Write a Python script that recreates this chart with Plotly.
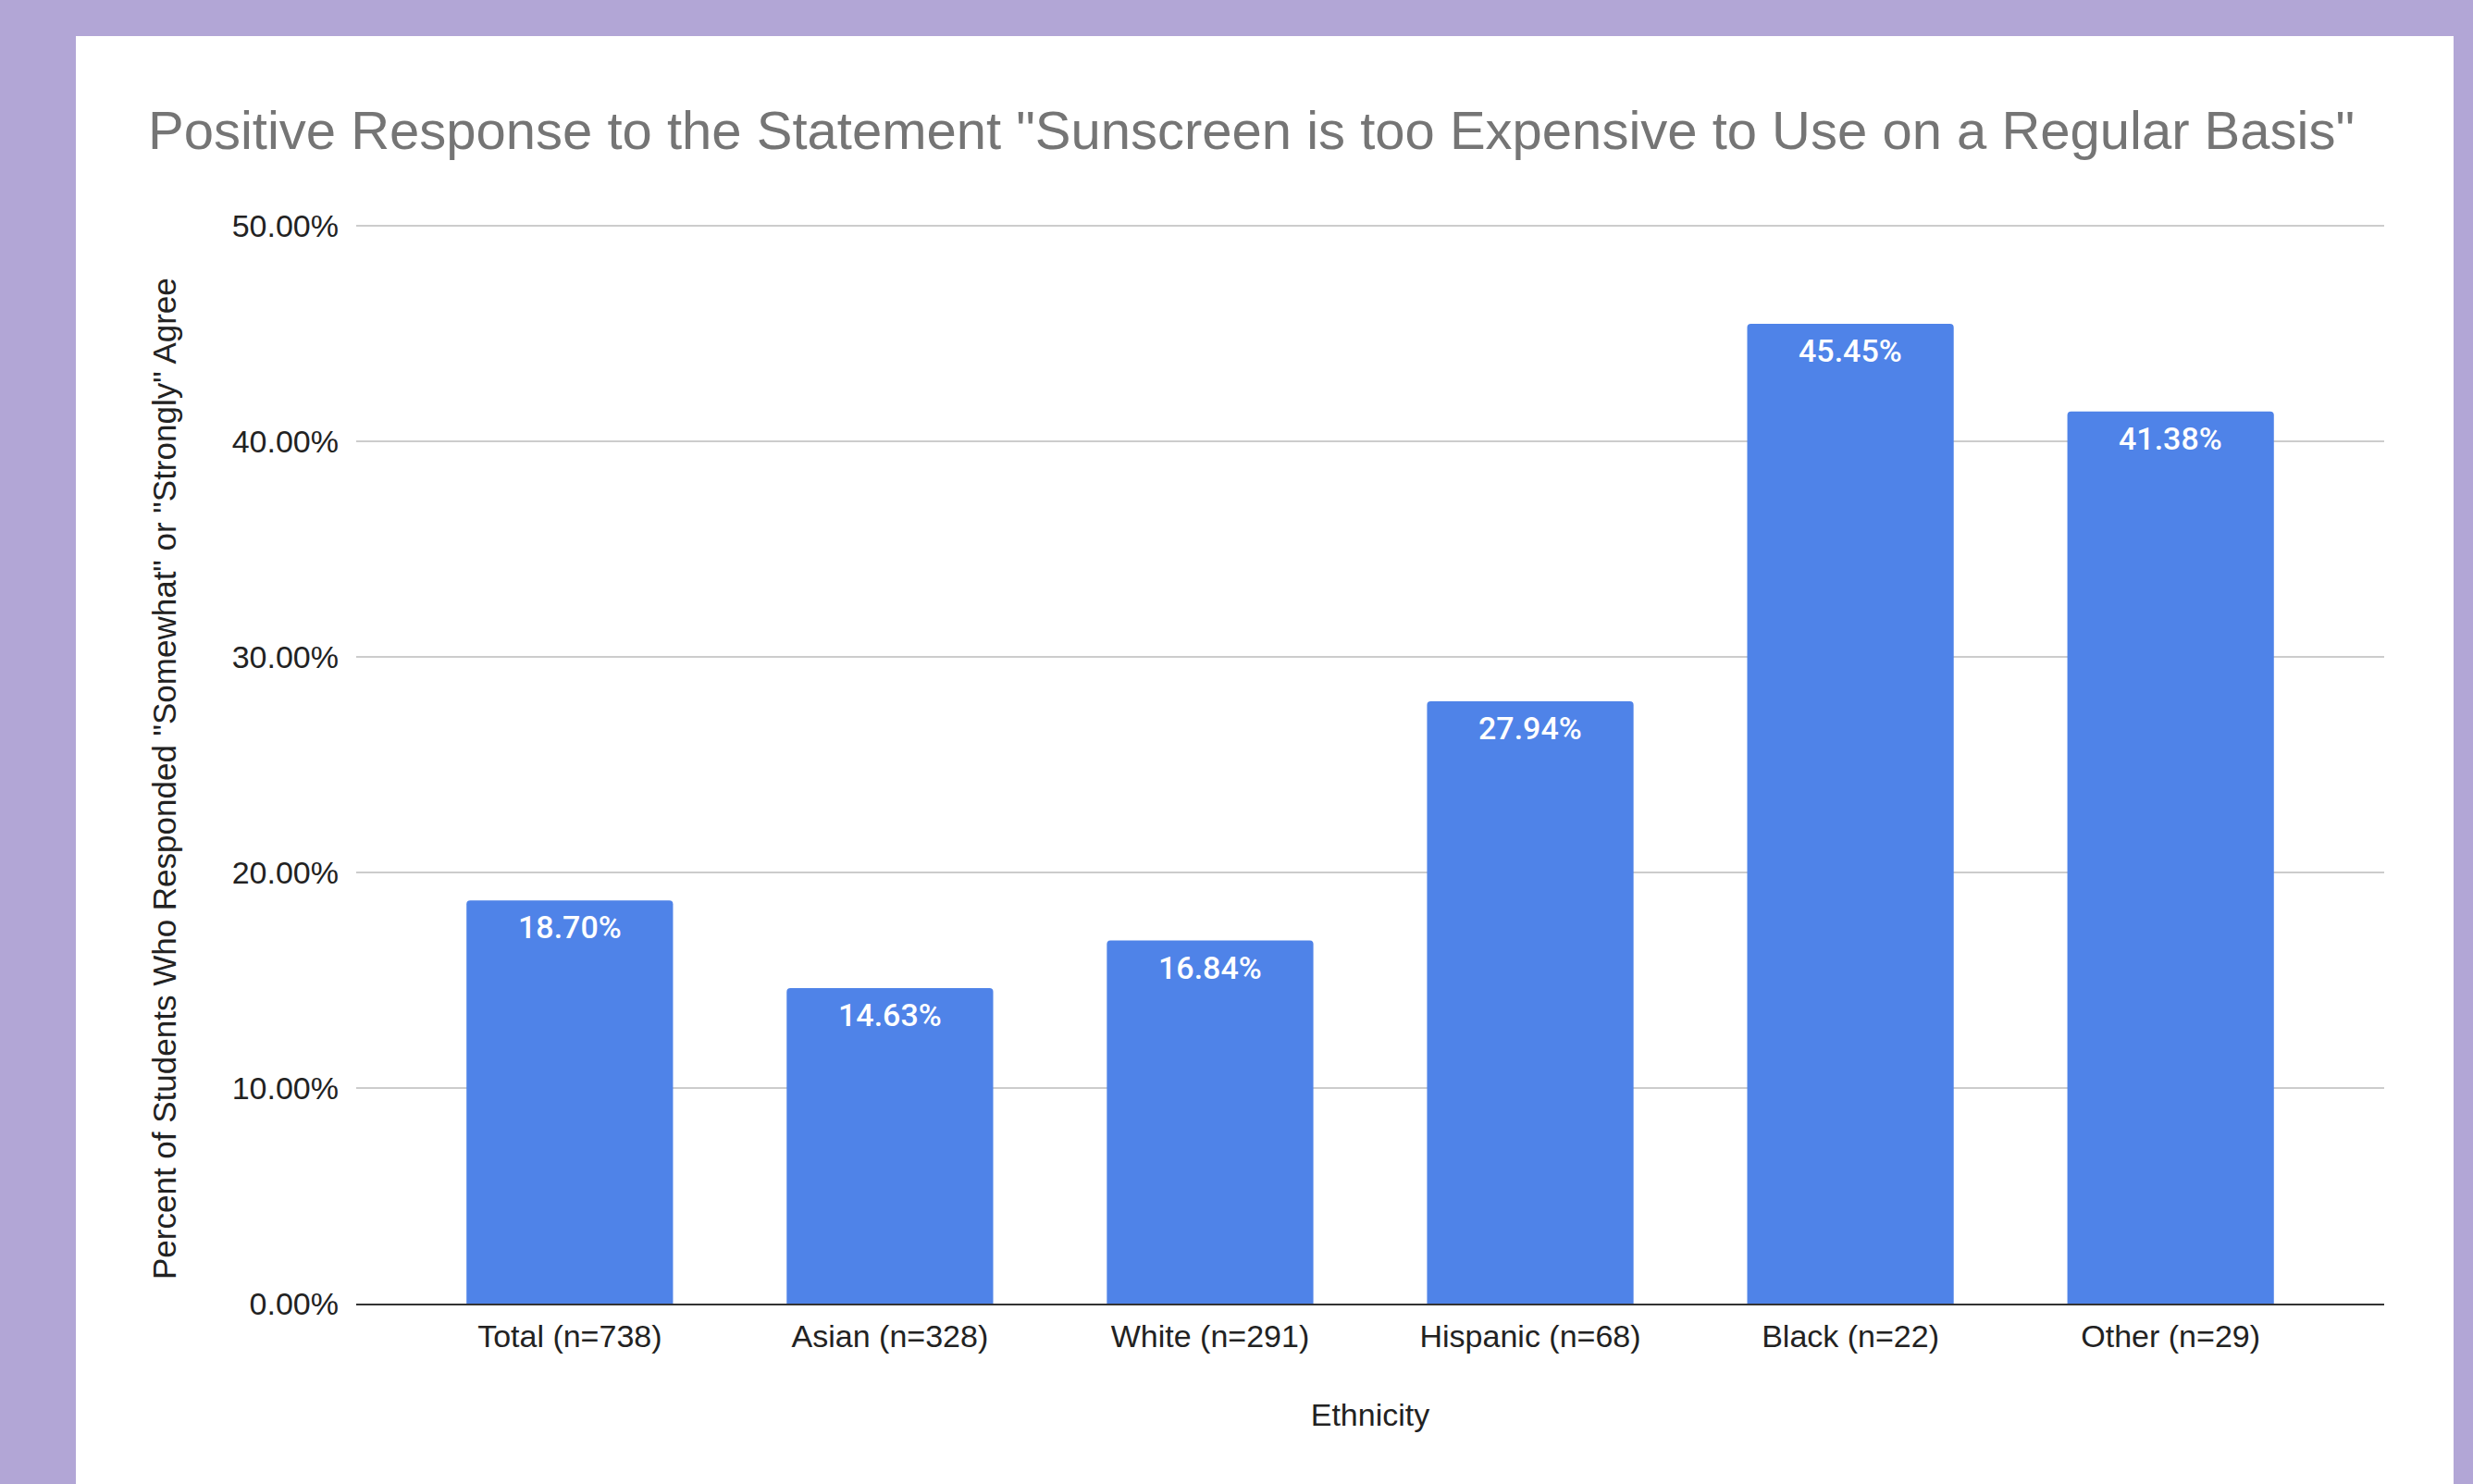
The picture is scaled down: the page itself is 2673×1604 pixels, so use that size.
import plotly.graph_objects as go

categories = ["Total (n=738)", "Asian (n=328)", "White (n=291)", "Hispanic (n=68)", "Black (n=22)", "Other (n=29)"]
values = [0.1870, 0.1463, 0.1684, 0.2794, 0.4545, 0.4138]
y_ticks = [0, 0.1, 0.2, 0.3, 0.4, 0.5]

W, H = 2673, 1604
ML, MR, MT, MB = 385, 96, 242, 195
PW, PH = W - ML - MR, H - MT - MB

def px_x(p):
    return (p - ML) / PW

def px_y(p):
    return (H - MB - p) / PH

FONT = "Liberation Sans, Arial, sans-serif"

xs = list(range(len(categories)))

fig = go.Figure()
fig.add_trace(go.Bar(
    x=xs,
    y=values,
    width=0.645,
    marker=dict(color="#4F83E8", cornerradius=4, line=dict(width=0)),
    hoverinfo="skip",
))

annotations = [
    dict(x=x, y=v, xref="x", yref="y", text=f"{v:.2%}", showarrow=False,
         yanchor="middle", yshift=-29,
         font=dict(color="white", size=34, family="Roboto, Liberation Sans, Arial", weight=500))
    for x, v in zip(xs, values)
]
annotations.append(dict(
    x=px_x(177), y=px_y(842), xref="paper", yref="paper", showarrow=False,
    text='Percent of Students Who Responded "Somewhat" or "Strongly" Agree',
    textangle=-90, xanchor="center", yanchor="middle",
    font=dict(size=35, color="#222222", family=FONT),
))

fig.update_layout(
    width=W, height=H,
    margin=dict(l=ML, r=MR, t=MT, b=MB, autoexpand=False),
    paper_bgcolor="#B2A6D6",
    plot_bgcolor="white",
    showlegend=False,
    font=dict(family=FONT, color="#222222", size=34),
    title=dict(
        text='Positive Response to the Statement "Sunscreen is too Expensive to Use on a Regular Basis"',
        xref="container", yref="container",
        x=160 / W, xanchor="left",
        y=1 - 141 / H, yanchor="middle",
        font=dict(size=58, color="#757575", family=FONT),
    ),
    shapes=[dict(
        type="rect", xref="paper", yref="paper", layer="below",
        x0=px_x(82), x1=px_x(2652), y0=px_y(1700), y1=px_y(39),
        fillcolor="white", line=dict(width=0),
    )],
    annotations=annotations,
    xaxis=dict(
        tickmode="array",
        tickvals=xs,
        ticktext=categories,
        range=[-0.667, len(categories) - 1 + 0.667],
        showgrid=False,
        showline=True, linecolor="#333333", linewidth=2,
        ticks="", ticklabelstandoff=4,
        tickfont=dict(size=34, color="#222222"),
        title=dict(text="Ethnicity", font=dict(size=34, color="#222222"), standoff=55),
    ),
    yaxis=dict(
        range=[0, 0.5008],
        tickvals=y_ticks,
        tickformat=".2%",
        showgrid=True, gridcolor="#CCCCCC", gridwidth=2,
        zeroline=False,
        ticks="", ticklabelstandoff=18,
        tickfont=dict(size=34, color="#222222"),
    ),
)

fig.write_html("out.html")
